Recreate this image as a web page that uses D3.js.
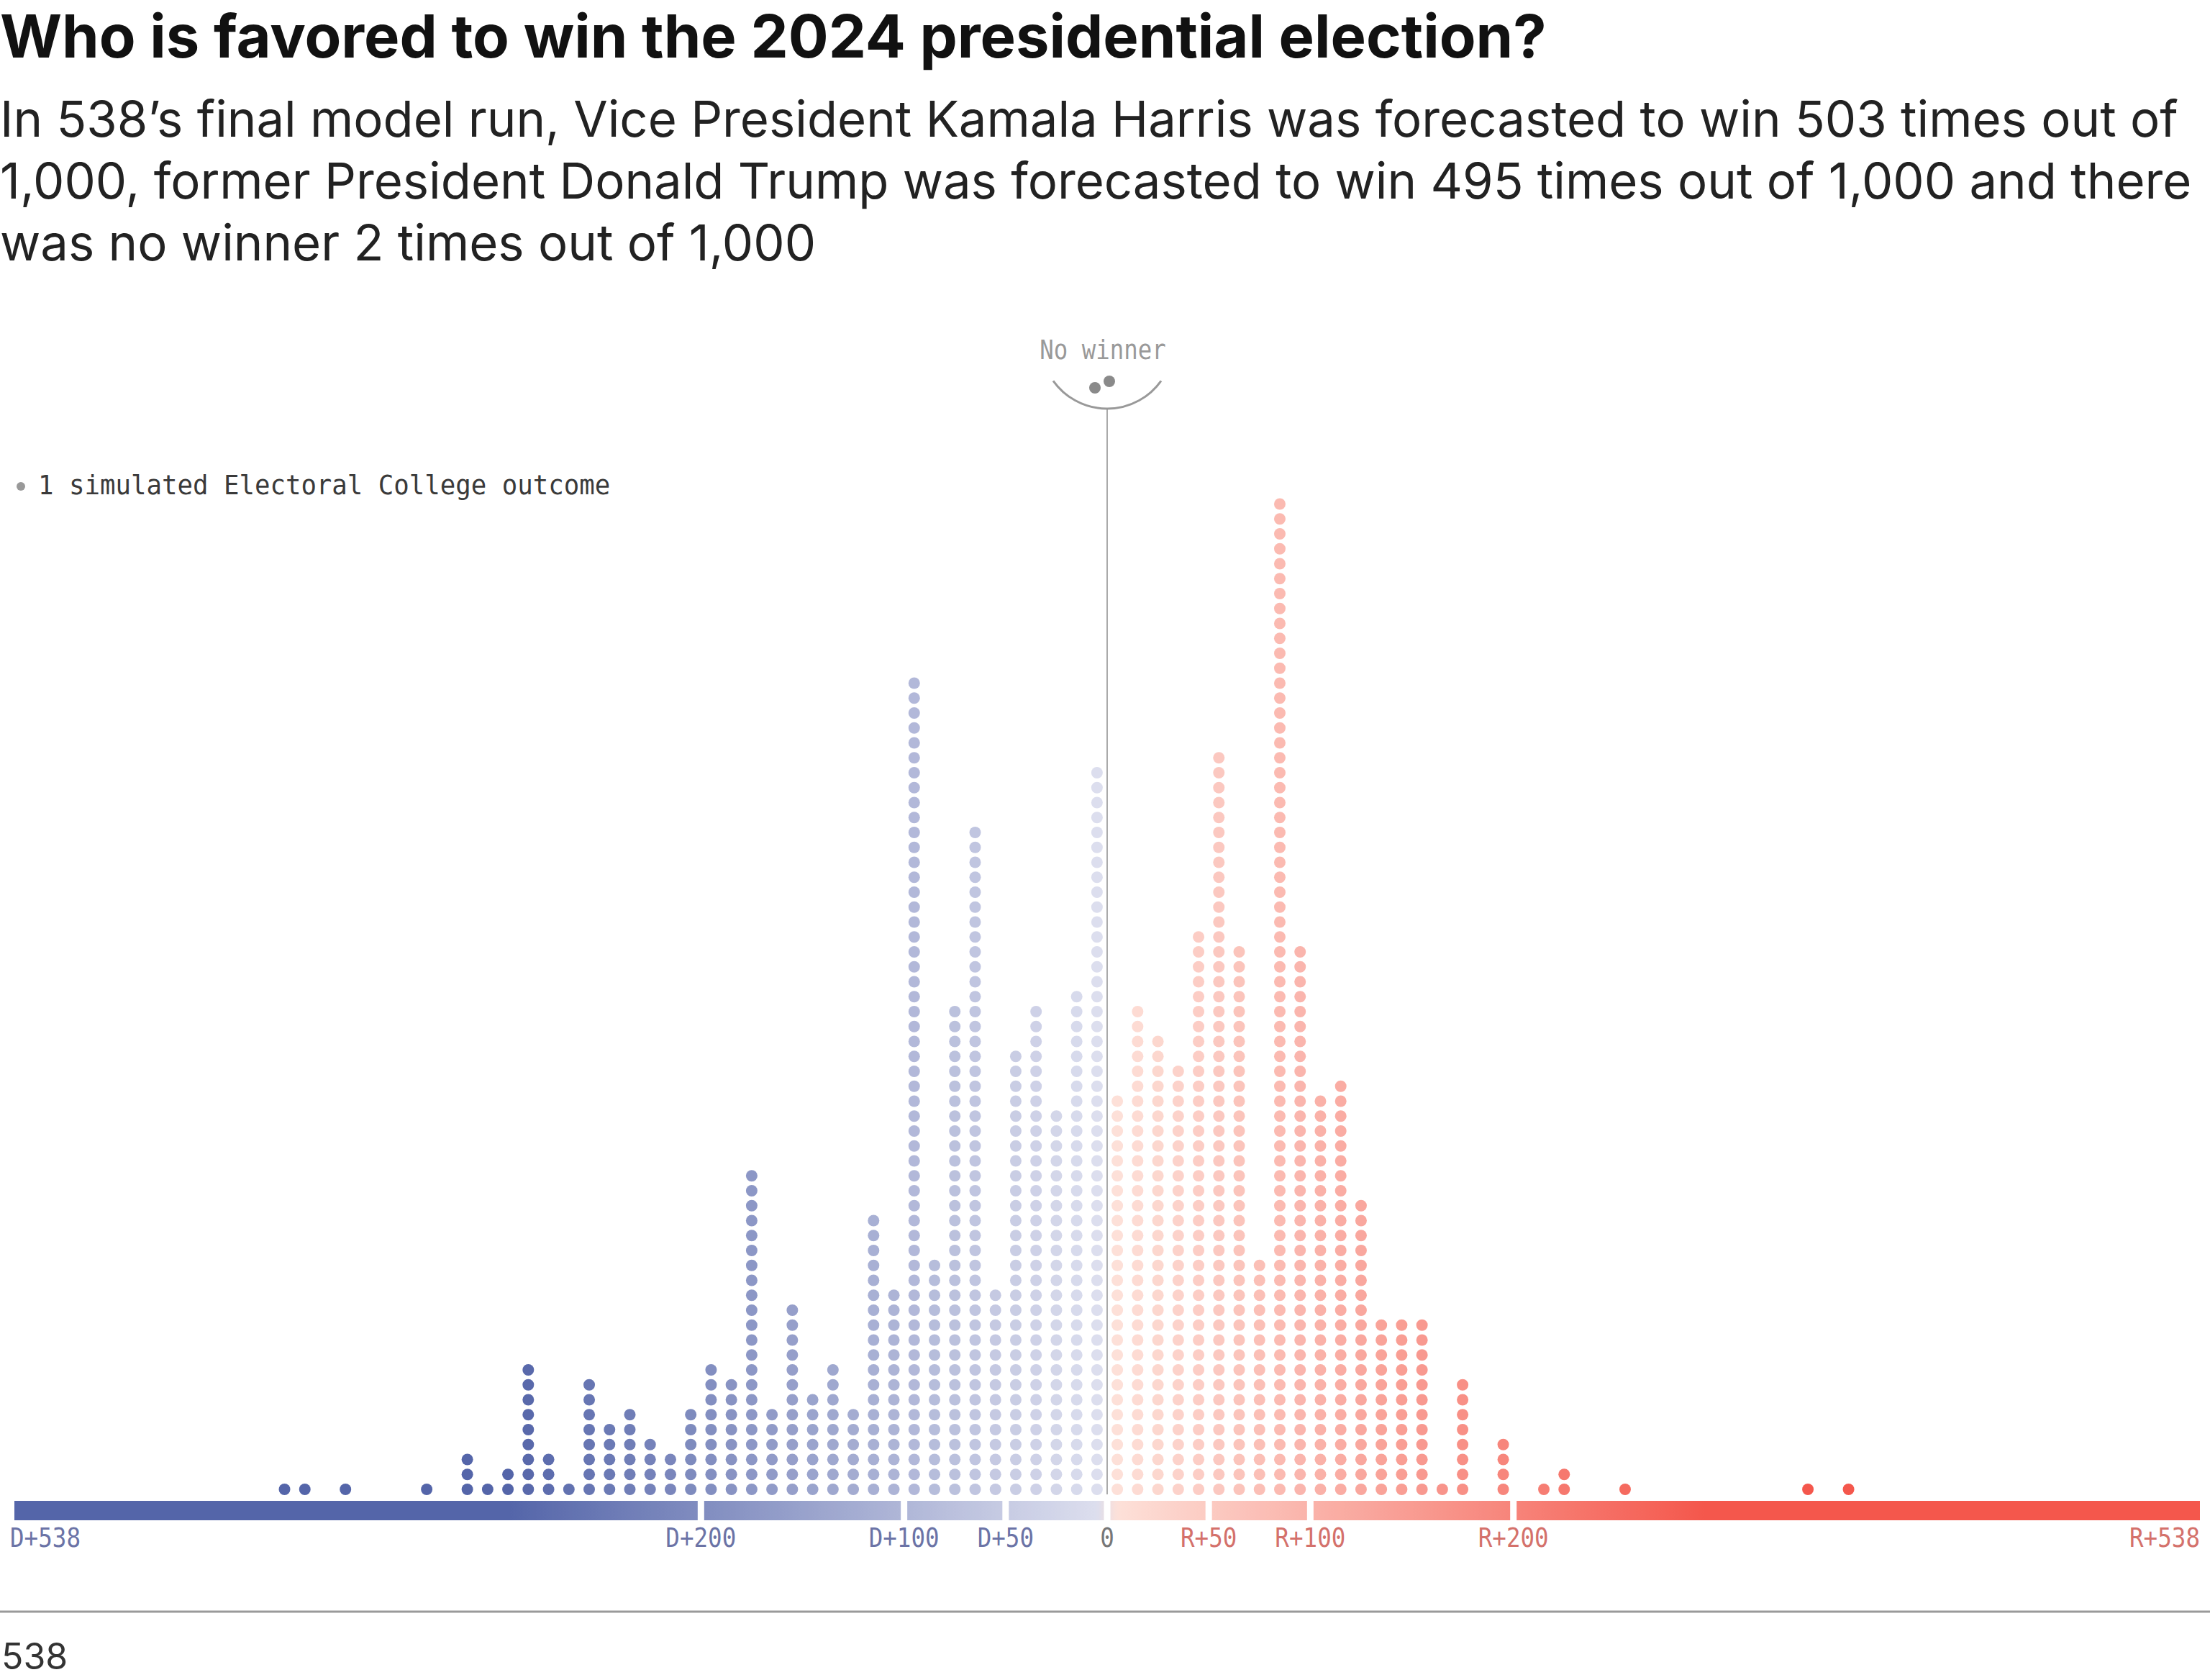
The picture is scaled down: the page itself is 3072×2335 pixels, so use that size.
<!DOCTYPE html>
<html><head><meta charset="utf-8">
<script src="https://cdn.jsdelivr.net/npm/d3@7"></script>
<style>html,body{margin:0;padding:0;background:#fff;} svg{display:block;}</style>
</head><body>
<script>
// ---- data ----
const titleText = "Who is favored to win the 2024 presidential election?";
const subtitleLines = [
  "In 538\u2019s final model run, Vice President Kamala Harris was forecasted to win 503 times out of",
  "1,000, former President Donald Trump was forecasted to win 495 times out of 1,000 and there",
  "was no winner 2 times out of 1,000"
];
// bin centres (electoral-vote margin, negative = Democratic win), 10-EV bins
const binMargins = [-405,-395,-375,-335,-315,-305,-295,-285,-275,-265,
  -255,-245,-235,-225,-215,-205,-195,-185,-175,-165,
  -155,-145,-135,-125,-115,-105,-95,-85,-75,-65,
  -55,-45,-35,-25,-15,-5,
  5,15,25,35,45,55,65,75,85,95,
  105,115,125,135,145,155,165,175,195,215,
  225,255,345,365];
// number of simulated outcomes in each bin
const binCounts = [1,1,1,1,3,1,2,9,3,1,
  8,5,6,4,3,6,9,8,22,6,
  13,7,9,6,19,14,55,16,33,45,
  14,30,33,26,34,49,
  27,33,31,29,38,50,37,16,67,37,
  27,28,20,12,12,12,1,8,4,1,
  2,1,1,1];
const noWinnerCount = 2;
const tickValues = [-538,-200,-100,-50,0,50,100,200,538];
const tickLabels = ["D+538","D+200","D+100","D+50","0","R+50","R+100","R+200","R+538"];
const legendText = "1 simulated Electoral College outcome";
const noWinnerText = "No winner";
const sourceText = "538";

// ---- setup ----
const W = 3072, H = 2335;
const svg = d3.select("body").append("svg").attr("width", W).attr("height", H);
const sans = "Inter, 'Noto Sans', sans-serif";
const mono = "'DejaVu Sans Mono', 'Liberation Mono', monospace";
const monoSize = 38, monoAdvance = 0.602 * monoSize;

// condensed monospace text via horizontal scale transform
function monoText(sel, px, py, txt, perChar, anchor, fill) {
  const sx = perChar / monoAdvance;
  return sel.append("text")
    .attr("transform", `translate(${px},${py}) scale(${sx},1)`)
    .attr("text-anchor", anchor)
    .style("font-family", mono).style("font-size", monoSize + "px").style("fill", fill)
    .text(txt);
}

const x = d3.scaleLinear().domain([-538, 538]).range([20, 3058]);
const maxDots = d3.max(binCounts);
const y = d3.scaleLinear().domain([0, maxDots]).range([2070, 2070 - maxDots * 20.75]);
const color = d3.scaleLinear()
  .domain([-295, -5, 5, 295])
  .range(["#5465a9", "#dcdeee", "#fde0d8", "#f4574c"])
  .clamp(true);

// ---- title & subtitle ----
svg.append("text").attr("x", 0).attr("y", 80)
  .style("font-family", sans).style("font-weight", 700).style("font-size", "83px")
  .style("fill", "#111").text(titleText);
svg.append("g").selectAll("text").data(subtitleLines).join("text")
  .attr("x", 0).attr("y", (d, i) => 190 + i * 86)
  .style("font-family", sans).style("font-size", "68.8px").style("fill", "#222")
  .text(d => d);

// ---- legend ----
svg.append("circle").attr("cx", 29).attr("cy", 676).attr("r", 6).attr("fill", "#999");
monoText(svg, 53, 687, legendText, 21.5, "start", "#3a3a3a");

// ---- zero line & no-winner annotation ----
const x0 = x(0);
svg.append("line").attr("x1", x0).attr("x2", x0).attr("y1", 568).attr("y2", 2077)
  .attr("stroke", "#aaa").attr("stroke-width", 2);
const arcR = 92, arcHalf = 75, arcCy = 476;
const arcY = arcCy + Math.sqrt(arcR * arcR - arcHalf * arcHalf);
svg.append("path").attr("d", `M${x0 - arcHalf},${arcY} A${arcR},${arcR} 0 0 0 ${x0 + arcHalf},${arcY}`)
  .attr("fill", "none").attr("stroke", "#999").attr("stroke-width", 3);
monoText(svg, x0 - 6, 499, noWinnerText, 19.5, "middle", "#999");
svg.append("g").selectAll("circle").data(d3.range(noWinnerCount)).join("circle")
  .attr("cx", i => x0 - 17 + i * 20).attr("cy", i => 539 - i * 9).attr("r", 8)
  .attr("fill", "#8a8a8a");

// ---- dots ----
const dots = [];
binMargins.forEach((m, bi) => {
  for (let i = 0; i < binCounts[bi]; i++) dots.push({ m, i });
});
svg.append("g").selectAll("circle").data(dots).join("circle")
  .attr("cx", d => x(d.m)).attr("cy", d => y(d.i)).attr("r", 8)
  .attr("fill", d => color(d.m));

// ---- axis bar with gradient ----
const defs = svg.append("defs");
const grad = defs.append("linearGradient").attr("id", "barGrad")
  .attr("gradientUnits", "userSpaceOnUse")
  .attr("x1", x(-538)).attr("x2", x(538)).attr("y1", 0).attr("y2", 0);
d3.range(-538, 539, 2).forEach(v => {
  grad.append("stop").attr("offset", (v + 538) / 1076).attr("stop-color", color(v === 0 ? -0.0001 : v));
});
const gap = 9;
const segs = d3.pairs(tickValues);
svg.append("g").selectAll("rect").data(segs).join("rect")
  .attr("x", (d, i) => x(d[0]) + (i === 0 ? 0 : gap / 2))
  .attr("width", (d, i) => x(d[1]) - x(d[0]) - (i === 0 ? 0 : gap / 2) - (i === segs.length - 1 ? 0 : gap / 2))
  .attr("y", 2086).attr("height", 27)
  .attr("fill", "url(#barGrad)");

// ---- tick labels ----
const tickG = svg.append("g");
tickValues.forEach((d, i) => {
  const last = i === tickValues.length - 1;
  const px = i === 0 ? x(d) - 6 : last ? x(d) : x(d);
  const anchor = i === 0 ? "start" : last ? "end" : "middle";
  const fill = d < 0 ? "#6b73a6" : d > 0 ? "#d4716b" : "#777";
  monoText(tickG, px, 2150, tickLabels[i], 19.6, anchor, fill);
});

// ---- footer ----
svg.append("line").attr("x1", 0).attr("x2", W).attr("y1", 2240).attr("y2", 2240)
  .attr("stroke", "#9a9a9a").attr("stroke-width", 3);
svg.append("text").attr("x", 2).attr("y", 2320)
  .style("font-family", sans).style("font-size", "50px").style("fill", "#333")
  .text(sourceText);
</script>
</body></html>
